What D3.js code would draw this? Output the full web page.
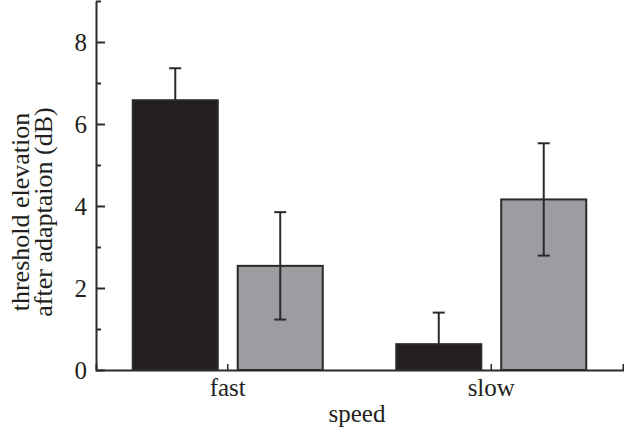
<!DOCTYPE html>
<html><head><meta charset="utf-8">
<script src="https://cdn.jsdelivr.net/npm/d3@7"></script>
<style>body{margin:0;background:#fff}svg{display:block}</style>
</head><body>
<svg id="c" width="624" height="429"></svg>
<script>
const categories = ["fast", "slow"];
const seriesNames = ["condition A", "condition B"];
const seriesA = [6.58, 0.63];
const seriesAErr = [0.78, 0.77];
const seriesB = [2.54, 4.16];
const seriesBErr = [1.31, 1.37];
const majorTicks = [0, 2, 4, 6, 8];
const minorTicks = [1, 3, 5, 7, 9];
const xTitle = "speed";
const yTitle = ["threshold elevation", "after adaptaion (dB)"];

const fills = ["#231f20", "#9c9da1"];
const ink = "#2a2a2a";
const font = "'Liberation Serif','Times New Roman',serif";

const svg = d3.select("#c");
const y = d3.scaleLinear().domain([0, 9]).range([370, 1]);
const x0 = d3.scaleBand().domain(categories).range([96, 623]).padding(0);
const x1 = d3.scaleBand().domain(seriesNames).range([-95, 95]).paddingInner(0.19);

const data = [];
categories.forEach((c, i) => {
  data.push({cat: c, s: seriesNames[0], v: seriesA[i], e: seriesAErr[i], f: fills[0], lower: false});
  data.push({cat: c, s: seriesNames[1], v: seriesB[i], e: seriesBErr[i], f: fills[1], lower: true});
});
const cx = d => x0(d.cat) + x0.bandwidth() / 2;

svg.selectAll("rect.bar").data(data).join("rect")
  .attr("class", "bar")
  .attr("x", d => cx(d) + x1(d.s))
  .attr("width", x1.bandwidth())
  .attr("y", d => y(d.v))
  .attr("height", d => y(0) - y(d.v))
  .attr("fill", d => d.f)
  .attr("stroke", ink).attr("stroke-width", 2);

const eb = svg.selectAll("g.err").data(data).join("g").attr("class", "err")
  .attr("stroke", ink).attr("stroke-width", 2);
const ex = d => cx(d) + x1(d.s) + x1.bandwidth() / 2;
eb.append("line").attr("x1", ex).attr("x2", ex)
  .attr("y1", d => d.lower ? y(d.v - d.e) : y(d.v)).attr("y2", d => y(d.v + d.e));
eb.append("line").attr("x1", d => ex(d) - 6).attr("x2", d => ex(d) + 6)
  .attr("y1", d => y(d.v + d.e)).attr("y2", d => y(d.v + d.e));
eb.filter(d => d.lower).append("line").attr("x1", d => ex(d) - 6).attr("x2", d => ex(d) + 6)
  .attr("y1", d => y(d.v - d.e)).attr("y2", d => y(d.v - d.e));

// y axis
const ya = svg.append("g").attr("transform", "translate(96,0)")
  .call(d3.axisLeft(y).tickValues(majorTicks).tickSize(-9).tickSizeOuter(0).tickPadding(9).tickFormat(d3.format("d")));
const ym = svg.append("g").attr("transform", "translate(96,0)")
  .call(d3.axisLeft(y).tickValues(minorTicks).tickSize(-5).tickSizeOuter(0).tickFormat(""));
ym.select(".domain").remove();

// x axis
const xa = svg.append("g").attr("transform", "translate(0,370)")
  .call(d3.axisBottom(x0).tickSizeInner(-6).tickSizeOuter(-6).tickPadding(8));

[ya, ym, xa].forEach(g => {
  g.selectAll("path,line").attr("stroke", ink).attr("stroke-width", 2);
  g.selectAll("text").attr("font-family", font).attr("font-size", 25).attr("fill", "#231f20");
});
xa.selectAll(".tick line").attr("stroke-width", 1.5);

svg.append("text").attr("x", 357).attr("y", 422).attr("text-anchor", "middle")
  .attr("font-family", font).attr("font-size", 25).attr("fill", "#231f20").text(xTitle);

yTitle.forEach((t, i) => {
  svg.append("text").attr("transform", `translate(${29 + i * 23},212) rotate(-90)`)
    .attr("text-anchor", "middle").attr("font-family", font).attr("font-size", 26)
    .attr("fill", "#231f20").text(t);
});
</script>
</body></html>
